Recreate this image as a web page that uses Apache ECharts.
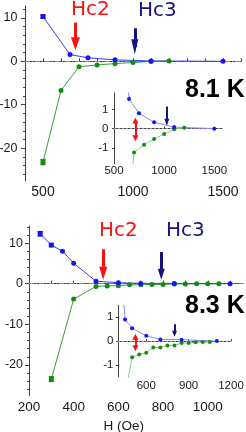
<!DOCTYPE html>
<html><head><meta charset="utf-8">
<script src="https://cdn.jsdelivr.net/npm/echarts@6/dist/echarts.min.js"></script>
<style>html,body{margin:0;padding:0;background:#fff}#c{width:246px;height:432px}</style>
</head><body><div id="c"></div>
<script>
// ===== DATA: 8.1 K panel =====
const topBlueH = [500, 650, 750, 900, 1100, 1500];
const topBlueV = [10.3, 1.55, 0.8, 0.33, 0.08, 0.0];
const topGreenH = [500, 600, 700, 800, 900, 1000, 1100, 1200];
const topGreenV = [-23.2, -6.7, -1.25, -0.84, -0.54, -0.28, -0.03, 0.05];
const topBlueErr = [[500, 10.3, 0.3]];
const topGreenErr = [[500, -23.2, 0.6]];
// arrows [H, from, to] in data units
const topHc2Arrow = [680, 8.9, 4.05];
const topHc3Arrow = [1010, 7.6, 3.34];
const topInsetHc2Arrow = [713, 0.42, -0.5];
const topInsetHc3Arrow = [1027, 1.16, 0.33];

// ===== DATA: 8.3 K panel =====
const botBlueH = [250, 300, 350, 400, 500, 600, 700, 850, 1100];
const botBlueV = [12.3, 9.5, 8.0, 5.0, 0.6, 0.24, 0.07, 0.06, 0.0];
const botGreenH = [300, 400, 500, 550, 600, 650, 700, 750, 800, 850, 900, 950, 1000, 1050];
const botGreenV = [-23.5, -3.8, -0.68, -0.56, -0.49, -0.27, -0.27, -0.18, -0.18, -0.08, -0.08, -0.05, -0.04, -0.04];
const botInsetBlueH = [400, 450, 500, 600, 700, 850, 1100];
const botInsetBlueV = [5.0, 0.9, 0.54, 0.22, 0.07, 0.06, 0.0];
const botBlueErr = [[250, 12.3, 0.55]];
const botGreenErr = [[300, -23.5, 0.6]];
const botHc2Arrow = [532, 8.47, 2.59];
const botHc3Arrow = [792, 7.8, 2.31];
const botInsetHc2Arrow = [523, 0.18, -0.3];
const botInsetHc3Arrow = [800, 0.71, 0.31];

// ===== TICK LABELS =====
const topXLabels = [500, 1000, 1500];
const topYLabels = [-20, -10, 0, 10];
const topInsetXLabels = [500, 1000, 1500];
const topInsetYLabels = [-1, 0, 1];
const botXLabels = [200, 400, 600, 800, 1000];
const botYLabels = [-20, -10, 0, 10];
const botInsetXLabels = [600, 900, 1200];
const botInsetYLabels = [-1, 0, 1];

const zip = (a, b) => a.map((v, i) => [v, b[i]]);
const range = (a, b, s) => { const r = []; for (let v = a; v <= b + 1e-9; v += s) r.push(v); return r; };

const BLUE = '#1414f0', BLUE_L = '#3a3aff', GREEN = '#168a16', GREEN_L = '#3c9c3c';
const BLUE_IN = '#8a8aff', GREEN_IN = '#8ccc8c';
const RED = '#ff1010', NAVY = '#14147e';
const AX = '#444', LBL = '#1a1a1a', FONT = '"Liberation Sans", Arial, sans-serif';
const TRI = 'path://M5,0L10,12L0,12Z';
const fmt = v => String(v);

function errBar(color) {
  return function (params, api) {
    const x = api.value(0), v = api.value(1), e = api.value(2);
    const a = api.coord([x, v + e]), b = api.coord([x, v - e]);
    const w = 2.5, st = { stroke: color, lineWidth: 1.2 };
    return { type: 'group', children: [
      { type: 'line', shape: { x1: a[0], y1: a[1], x2: b[0], y2: b[1] }, style: st },
      { type: 'line', shape: { x1: a[0] - w, y1: a[1], x2: a[0] + w, y2: a[1] }, style: st },
      { type: 'line', shape: { x1: b[0] - w, y1: b[1], x2: b[0] + w, y2: b[1] }, style: st }
    ]};
  };
}
function arrow(arr, color, width, head, both) {
  return [
    { coord: [arr[0], arr[1]], symbol: both ? TRI : 'none', symbolSize: head,
      lineStyle: { color: color, width: width, type: 'solid' } },
    { coord: [arr[0], arr[2]], symbol: TRI, symbolSize: head }
  ];
}
function zeroLine(type, color) {
  return { silent: true, animation: false, symbol: 'none', z: 1, label: { show: false },
    lineStyle: { color: color, width: 1, type: type }, data: [{ yAxis: 0 }] };
}
function arrowsML(list) {
  return { silent: true, animation: false, label: { show: false }, emphasis: { disabled: true },
    itemStyle: {}, data: list };
}
function xAxis(gi, min, max, labels, ticks, fs, margin, tickLen) {
  return { type: 'value', gridIndex: gi, min: min, max: max, splitLine: { show: false },
    axisLine: { show: true, lineStyle: { color: AX, width: 1 } },
    axisTick: { show: true, inside: true, length: tickLen, customValues: ticks, lineStyle: { color: AX } },
    axisLabel: { customValues: labels, formatter: fmt, fontSize: fs, fontFamily: FONT, color: LBL, margin: margin } };
}
function yAxis(gi, min, max, labels, ticks, fs, margin, tickLen, showLine) {
  return { type: 'value', gridIndex: gi, position: 'left', min: min, max: max, splitLine: { show: false },
    axisLine: { show: showLine, lineStyle: { color: AX, width: 1 } },
    axisTick: { show: true, inside: false, length: tickLen, customValues: ticks, lineStyle: { color: AX } },
    axisLabel: { show: labels.length > 0, customValues: labels, formatter: fmt, fontSize: fs, fontFamily: FONT, color: LBL, margin: margin } };
}
function lineSeries(xi, yi, data, color, lineColor, size, nRect, extra) {
  return Object.assign({ type: 'line', xAxisIndex: xi, yAxisIndex: yi, data: data, clip: true,
    symbol: (v, p) => p.dataIndex < nRect ? 'rect' : 'circle', symbolSize: size,
    itemStyle: { color: color }, lineStyle: { color: lineColor, width: 1 },
    emphasis: { disabled: true }, animation: false, z: 3 }, extra || {});
}
function errSeries(xi, yi, data, color) {
  return { type: 'custom', xAxisIndex: xi, yAxisIndex: yi, data: data, encode: { x: 0, y: 1 },
    renderItem: errBar(color), animation: false, z: 2, silent: true };
}

const chart = echarts.init(document.getElementById('c'), null, { renderer: 'canvas' });
chart.setOption({
  animation: false,
  backgroundColor: '#fff',
  grid: [
    { left: 25, top: 6, width: 216, height: 175, containLabel: false, outerBoundsMode: 'none' },
    { left: 114, top: 93, width: 108, height: 70.5, containLabel: false, outerBoundsMode: 'none' },
    { left: 29, top: 226, width: 214.5, height: 169.7, containLabel: false, outerBoundsMode: 'none' },
    { left: 118, top: 305.3, width: 113, height: 71.6, containLabel: false, outerBoundsMode: 'none' }
  ],
  xAxis: [
    xAxis(0, 400, 1600, topXLabels, range(400, 1600, 100), 14, 4, 3),
    xAxis(1, 500, 1577, topInsetXLabels, topInsetXLabels, 11.5, 1.5, 2),
    xAxis(2, 200, 1160, botXLabels, range(200, 1100, 100), 13.5, 5, 3),
    xAxis(3, 400, 1200, botInsetXLabels, botInsetXLabels, 11.5, 3, 2)
  ],
  yAxis: [
    yAxis(0, -27.56, 12.73, topYLabels, topYLabels, 12.5, 7.5, 4, true),
    yAxis(1, -1.82, 1.86, topInsetYLabels, topInsetYLabels, 11.5, 5.5, 2, true),
    yAxis(2, -27.59, 14.2, botYLabels, botYLabels, 12.5, 6, 4, true),
    yAxis(3, -1.5, 1.5, botInsetYLabels, botInsetYLabels, 11.5, 4.5, 2, true),
    yAxis(0, -27.56, 12.73, [], range(-26, 12, 2), 12, 8, 2, false),
    yAxis(2, -27.59, 14.2, [], range(-26, 14, 2), 12, 8, 2, false)
  ],
  series: [
    // top main
    lineSeries(0, 0, zip(topGreenH, topGreenV), GREEN, GREEN_L, 5, 1, { markLine: zeroLine([5, 2, 1, 2], '#8a8a8a') }),
    lineSeries(0, 0, zip(topBlueH, topBlueV), BLUE, BLUE_L, 5, 1, {
      markLine: arrowsML([arrow(topHc2Arrow, RED, 3, [9, 13], false), arrow(topHc3Arrow, NAVY, 3, [7, 15], false)]) }),
    errSeries(0, 0, topBlueErr, BLUE), errSeries(0, 0, topGreenErr, GREEN),
    // top inset
    lineSeries(1, 1, zip(topGreenH, topGreenV), GREEN, GREEN_IN, 4, 0, { markLine: zeroLine([2, 2], '#9a9a9a') }),
    lineSeries(1, 1, zip(topBlueH, topBlueV), BLUE, BLUE_IN, 4, 0, {
      markLine: arrowsML([arrow(topInsetHc2Arrow, RED, 2, [6, 6], true), arrow(topInsetHc3Arrow, NAVY, 2, [5, 7], false)]) }),
    // bottom main
    lineSeries(2, 2, zip(botGreenH, botGreenV), GREEN, GREEN_L, 5, 1, { markLine: zeroLine([5, 2, 1, 2], '#8a8a8a') }),
    lineSeries(2, 2, zip(botBlueH, botBlueV), BLUE, BLUE_L, 5, 2, {
      markLine: arrowsML([arrow(botHc2Arrow, RED, 3, [8, 13], false), arrow(botHc3Arrow, NAVY, 3, [7, 11], false)]) }),
    errSeries(2, 2, botBlueErr, BLUE), errSeries(2, 2, botGreenErr, GREEN),
    // bottom inset
    lineSeries(3, 3, zip(botGreenH, botGreenV), GREEN, GREEN_IN, 4, 0, { markLine: zeroLine([2, 2], '#9a9a9a') }),
    lineSeries(3, 3, zip(botInsetBlueH, botInsetBlueV), BLUE, BLUE_IN, 4, 0, {
      markLine: arrowsML([arrow(botInsetHc2Arrow, RED, 2, [6, 6], true), arrow(botInsetHc3Arrow, NAVY, 2, [5, 6], false)]) })
  ],
  graphic: [
    { type: 'text', x: 71, y: 10, style: { text: 'Hc2', fill: RED, font: '20px "DejaVu Sans"', verticalAlign: 'middle' } },
    { type: 'text', x: 138, y: 10.5, style: { text: 'Hc3', fill: NAVY, font: '20px "DejaVu Sans"', verticalAlign: 'middle' } },
    { type: 'text', x: 185, y: 90.5, style: { text: '8.1 K', fill: '#000', font: 'bold 25px "Liberation Sans"', verticalAlign: 'middle' } },
    { type: 'text', x: 99, y: 230.5, style: { text: 'Hc2', fill: RED, font: '20px "DejaVu Sans"', verticalAlign: 'middle' } },
    { type: 'text', x: 166, y: 231, style: { text: 'Hc3', fill: NAVY, font: '20px "DejaVu Sans"', verticalAlign: 'middle' } },
    { type: 'text', x: 185, y: 306, style: { text: '8.3 K', fill: '#000', font: 'bold 25px "Liberation Sans"', verticalAlign: 'middle' } },
    { type: 'text', x: 123.7, y: 426, style: { text: 'H (Oe)', fill: LBL, font: '13.5px "Liberation Sans"', align: 'center', verticalAlign: 'middle' } }
  ]
});
</script>
</body></html>
